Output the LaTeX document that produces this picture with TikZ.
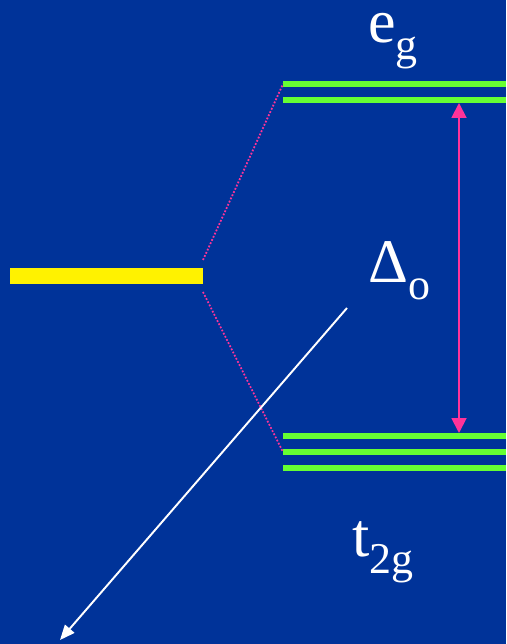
\documentclass[tikz,border=0pt]{standalone}
\usepackage{fontspec}
\setmainfont{Liberation Serif}
\usetikzlibrary{arrows.meta}
\definecolor{slideblue}{RGB}{0,51,153}
\definecolor{levelgreen}{RGB}{102,255,51}
\definecolor{splitpink}{RGB}{255,51,153}
\newcommand{\lowsub}[1]{{\fontsize{25}{26}\selectfont\raisebox{-9.2pt}{#1}}}

\begin{document}
\begin{tikzpicture}[
    level/.style = {draw = levelgreen, line width = 3.4pt},
    lbl/.style = {text = white, inner sep = 0pt, anchor = base west, text height = 0.66em, text depth = 0.45em, font = \fontsize{35.3}{36}\selectfont}
]
            % background
            \path[fill = slideblue](0,0)rectangle(10.12,12.88);
            \useasboundingbox(0,0)rectangle(10.12,12.88);
            % free ion level
            \coordinate(Y1)at(4.06,7.68);
            \coordinate(Y2)at(4.06,7.04);
            \path[fill = yellow](0.2,7.2)rectangle(4.06,7.52);
            % e_g levels
            \coordinate(E1)at(5.66,11.2);
            \coordinate(E2)at(5.66,10.88);
            \path[level](E1)to(10.12,11.2);
            \path[level](E2)to(10.12,10.88);
            % t_2g levels
            \coordinate(T1)at(5.66,4.16);
            \coordinate(T2)at(5.66,3.84);
            \coordinate(T3)at(5.66,3.52);
            \path[level](T1)to(10.12,4.16);
            \path[level](T2)to(10.12,3.84);
            \path[level](T3)to(10.12,3.52);
            % splitting
            \path[draw = splitpink, densely dotted, line width = 1pt](Y1)to(E1);
            \path[draw = splitpink, densely dotted, line width = 1pt](Y2)to(T2);
            % gap
            \coordinate(A)at(9.18,10.82);
            \coordinate(B)at(9.18,4.22);
            \path[draw = splitpink, line width = 1.1pt, {Triangle[length=8.5pt,width=8.5pt]}-{Triangle[length=8.5pt,width=8.5pt]}](A)to(B);
            % labels
            \node[lbl](eg)at(7.36,12.02){e\lowsub{g}};
            \node[lbl](do)at(7.36,7.22){Δ\lowsub{o}};
            \node[lbl](tg)at(7.04,1.74){t\lowsub{2g}};
            % pointer
            \coordinate(S)at(6.94,6.72);
            \coordinate(F)at(1.2,0.08);
            \path[draw = white, line width = 1.1pt, -{Triangle[length=8.5pt,width=7pt]}](S)to(F);
        \end{tikzpicture}
\end{document}
